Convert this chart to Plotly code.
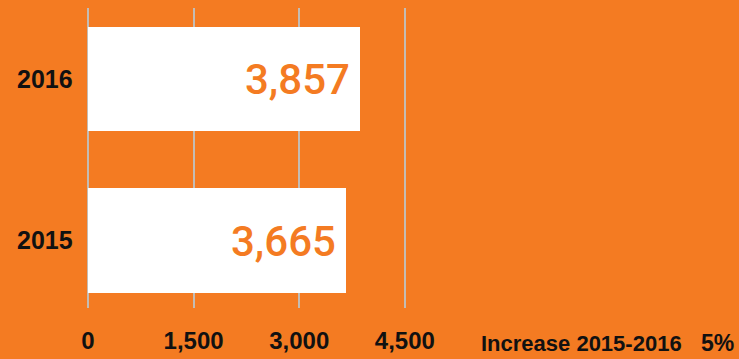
import plotly.graph_objects as go

# Annual totals
years = ["2015", "2016"]
totals = [3665, 3857]
x_ticks = [0, 1500, 3000, 4500]
x_tick_labels = ["0", "1,500", "3,000", "4,500"]
increase_label = "Increase 2015-2016"
increase_value = "5%"

ORANGE = "#F47B22"
BLACK = "#111111"
GRID = "#C4BCB4"
W, H = 739, 359
ML, MR, MT, MB = 88, 313, 8, 51
X_MAX = 4800

# bar rows on a linear axis, one unit apart
rows = list(range(len(years)))

fig = go.Figure(
    go.Bar(
        x=totals,
        y=rows,
        orientation="h",
        marker=dict(color="white", line=dict(width=0)),
        width=0.65,
        hoverinfo="skip",
    )
)

# Value labels inside the bar ends
for r, v in zip(rows, totals):
    fig.add_annotation(
        x=v, y=r, xref="x", yref="y",
        text=f"{v:,}", showarrow=False,
        xanchor="right", yanchor="middle", xshift=-8, yshift=-1,
        font=dict(family="Roboto", size=42, color=ORANGE, weight=500),
    )

# Left-aligned category labels
for r, yr in zip(rows, years):
    fig.add_annotation(
        x=0, y=r, xref="paper", yref="y",
        text=f"<b>{yr}</b>", showarrow=False,
        xanchor="left", yanchor="middle", xshift=-(ML - 15),
        font=dict(family="Liberation Sans", size=25, color=BLACK),
    )

plot_w = W - ML - MR
plot_h = H - MT - MB
fig.add_annotation(
    x=(479 - ML) / plot_w, y=(308 - 343) / plot_h,
    xref="paper", yref="paper", text=f"<b>{increase_label}</b>",
    showarrow=False, xanchor="left", yanchor="middle",
    font=dict(family="Liberation Sans", size=22, color=BLACK),
)
fig.add_annotation(
    x=(736 - ML) / plot_w, y=(308 - 343) / plot_h,
    xref="paper", yref="paper", text=f"<b>{increase_value}</b>",
    showarrow=False, xanchor="right", yanchor="middle",
    font=dict(family="Liberation Sans", size=23, color=BLACK),
)

fig.update_layout(
    width=W, height=H,
    margin=dict(l=ML, r=MR, t=MT, b=MB, autoexpand=False),
    paper_bgcolor=ORANGE, plot_bgcolor=ORANGE,
    showlegend=False,
    bargap=0,
)
fig.update_xaxes(
    range=[0, X_MAX],
    tickvals=x_ticks, ticktext=[f"<b>{t}</b>" for t in x_tick_labels],
    tickfont=dict(family="Liberation Sans", size=24, color=BLACK),
    showgrid=True, gridcolor=GRID, gridwidth=2,
    zeroline=True, zerolinecolor=GRID, zerolinewidth=2,
    showline=False, ticks="",
    ticklabelstandoff=16,
    automargin=False,
    fixedrange=True,
)
fig.update_yaxes(
    range=[-0.42, 1.44],
    showticklabels=False, showgrid=False, zeroline=False, showline=False,
    automargin=False,
    fixedrange=True,
)

fig.write_html("out.html", config={"displayModeBar": False})
